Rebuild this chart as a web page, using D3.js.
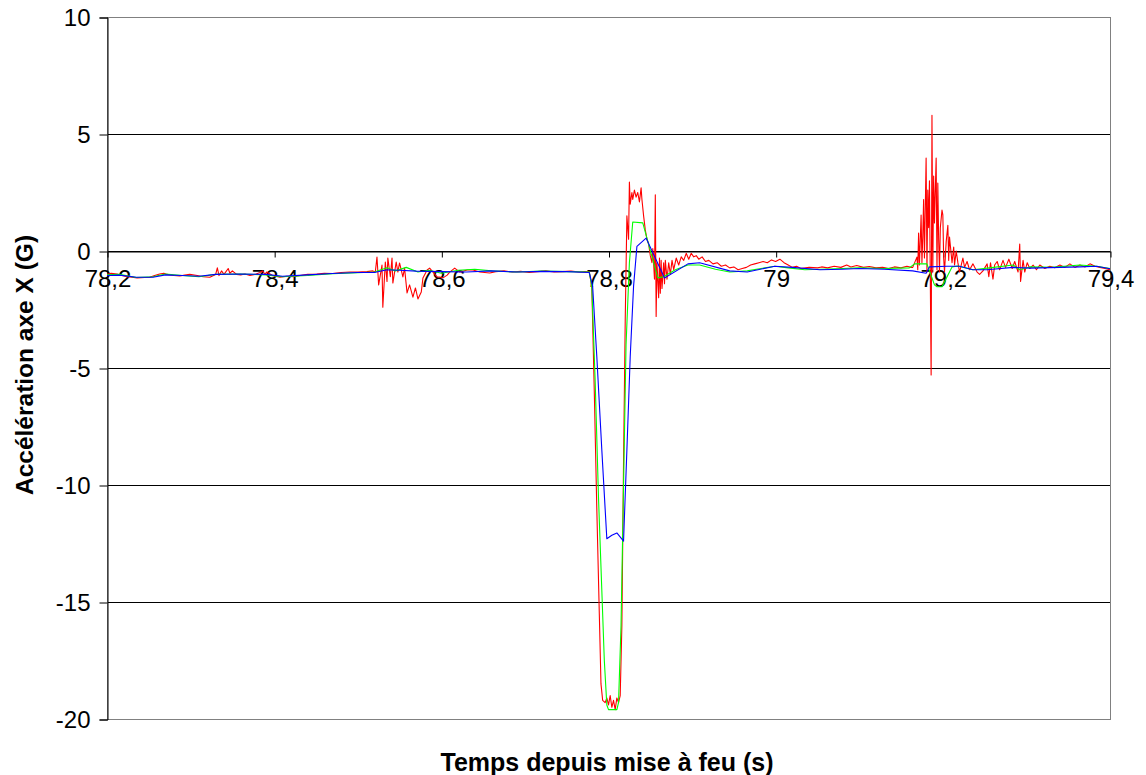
<!DOCTYPE html>
<html><head><meta charset="utf-8">
<script src="https://cdn.jsdelivr.net/npm/d3@7"></script>
<style>
html,body{margin:0;padding:0;background:#fff;}
svg{display:block;}
text{font-family:"Liberation Sans",Arial,sans-serif;}
</style></head>
<body>
<svg id="chart" width="1146" height="775"></svg>
<script>
// ---- data ----
const xTicks = [78.2, 78.4, 78.6, 78.8, 79.0, 79.2, 79.4];
const xTickLabels = ["78,2", "78,4", "78,6", "78,8", "79", "79,2", "79,4"];
const yTicks = [10, 5, 0, -5, -10, -15, -20];
const yTickLabels = ["10", "5", "0", "-5", "-10", "-15", "-20"];
const xTitle = "Temps depuis mise à feu (s)";
const yTitle = "Accélération axe X (G)";

// raw signal (red): [time s, acceleration G]
const redSeries = [
 [78.200,-1.00],[78.205,-0.95],[78.212,-0.98],[78.218,-1.05],[78.224,-1.10],[78.230,-1.12],[78.236,-1.15],
 [78.245,-1.13],[78.251,-1.12],[78.257,-1.05],[78.263,-0.98],[78.268,-0.95],[78.272,-1.00],[78.280,-1.05],
 [78.287,-1.07],[78.293,-1.03],[78.299,-1.00],[78.308,-1.05],[78.315,-1.10],[78.323,-1.12],[78.330,-1.00],
 [78.332,-0.72],[78.334,-1.05],[78.337,-0.85],[78.340,-1.00],[78.345,-0.75],[78.347,-0.95],[78.350,-0.85],
 [78.355,-1.00],[78.360,-1.02],[78.365,-0.98],[78.371,-1.05],[78.377,-1.00],[78.383,-0.92],[78.386,-0.85],
 [78.389,-1.00],[78.391,-0.90],[78.398,-1.05],[78.407,-1.12],[78.415,-1.08],[78.423,-1.10],[78.431,-1.05],
 [78.440,-1.00],[78.451,-0.98],[78.460,-0.95],[78.470,-0.96],[78.480,-0.92],[78.491,-0.90],[78.500,-0.90],
 [78.511,-0.88],[78.518,-0.85],
 [78.521,-0.90],[78.523,-0.26],[78.525,-1.45],[78.529,-0.60],[78.530,-2.40],[78.533,-0.47],[78.535,-1.30],
 [78.536,-0.30],[78.539,-1.10],[78.541,-0.30],[78.542,-1.37],[78.546,-0.47],[78.548,-0.90],[78.550,-0.51],
 [78.554,-1.11],[78.556,-0.73],[78.559,-1.79],[78.562,-1.45],[78.566,-1.97],[78.569,-1.58],[78.572,-2.05],
 [78.576,-1.75],[78.578,-1.15],[78.583,-0.81],[78.586,-0.73],[78.590,-0.90],[78.595,-1.11],[78.598,-1.11],
 [78.602,-1.15],[78.607,-1.03],[78.610,-0.90],[78.616,-0.73],[78.622,-0.90],[78.631,-0.81],[78.638,-0.81],
 [78.646,-0.90],[78.658,-0.94],
 [78.665,-0.88],[78.675,-0.85],[78.685,-0.90],[78.695,-0.87],[78.705,-0.92],[78.715,-0.88],[78.725,-0.85],
 [78.735,-0.90],[78.745,-0.88],[78.755,-0.86],[78.765,-0.90],[78.772,-0.88],[78.777,-0.90],
 [78.780,-1.50],[78.783,-6.00],[78.786,-11.0],[78.789,-15.5],[78.791,-18.5],[78.793,-19.2],[78.796,-19.3],
 [78.798,-19.1],[78.800,-19.4],[78.802,-19.0],[78.804,-19.5],[78.806,-19.2],[78.808,-19.6],[78.810,-19.1],
 [78.812,-19.3],[78.814,-19.0],[78.816,-16.0],[78.818,-9.0],[78.820,-3.0],[78.822,1.5],[78.824,0.5],
 [78.825,2.95],[78.826,2.0],[78.828,2.5],[78.829,2.2],[78.831,2.6],[78.833,2.3],[78.835,2.5],[78.837,2.1],
 [78.839,2.7],[78.840,2.2],[78.842,1.5],[78.844,0.9],[78.846,0.5],[78.848,0.3],[78.850,-0.2],[78.852,-0.5],
 [78.853,0.1],[78.855,-1.2],[78.856,2.4],[78.857,-2.8],[78.858,-0.5],[78.860,-2.0],[78.861,-0.3],[78.862,-1.8],
 [78.863,-0.4],[78.864,-1.6],[78.866,-0.5],[78.867,-1.4],[78.868,-0.4],[78.870,-1.2],[78.872,-0.5],[78.874,-1.0],
 [78.876,-0.4],[78.878,-0.8],[78.881,-0.3],[78.884,-0.6],[78.887,-0.25],[78.890,-0.4],[78.893,-0.1],[78.896,-0.35],
 [78.899,-0.1],[78.902,-0.25],[78.905,-0.2],[78.908,-0.35],[78.912,-0.25],[78.916,-0.45],[78.920,-0.4],[78.925,-0.55],
 [78.930,-0.5],[78.935,-0.65],[78.940,-0.6],[78.945,-0.72],[78.950,-0.68],[78.955,-0.8],[78.960,-0.75],[78.965,-0.7],
 [78.970,-0.6],[78.975,-0.55],[78.980,-0.5],[78.985,-0.45],[78.990,-0.5],[78.995,-0.38],[79.000,-0.45],[79.005,-0.35],
 [79.010,-0.5],[79.015,-0.6],[79.020,-0.7],[79.025,-0.65],[79.030,-0.75],[79.040,-0.7],[79.050,-0.72],
 [79.055,-0.68],[79.062,-0.72],[79.070,-0.65],[79.078,-0.70],[79.085,-0.60],[79.090,-0.68],[79.097,-0.62],
 [79.105,-0.70],[79.112,-0.66],[79.120,-0.72],[79.128,-0.70],[79.135,-0.75],[79.142,-0.68],[79.150,-0.72],
 [79.157,-0.65],[79.162,-0.70],
 [79.164,-0.70],[79.169,-0.26],[79.170,-0.80],[79.171,0.77],[79.172,-0.60],[79.174,1.54],[79.175,-0.50],
 [79.176,0.60],[79.177,2.20],[79.178,-0.30],[79.180,3.97],[79.181,-0.90],[79.182,2.60],[79.183,1.00],
 [79.184,3.00],[79.186,-5.30],[79.187,5.80],[79.188,-0.90],[79.189,3.20],[79.190,1.20],[79.192,3.97],
 [79.193,-0.80],[79.194,2.90],[79.195,0.50],[79.196,-0.90],[79.197,1.00],[79.199,1.75],[79.200,1.55],
 [79.201,-0.30],[79.202,-0.90],[79.204,0.40],[79.206,1.10],[79.207,-0.40],[79.208,0.60],[79.211,-0.50],
 [79.213,0.17],[79.214,-0.60],[79.216,0.00],[79.218,-0.50],[79.220,-0.90],[79.224,-0.30],[79.226,-0.70],
 [79.229,-0.45],[79.232,-0.80],[79.236,-0.55],[79.241,-0.90],[79.244,-1.00],[79.248,-0.85],[79.253,-0.55],
 [79.255,-1.10],[79.257,-0.50],[79.260,-1.20],[79.262,-0.60],[79.265,-0.45],[79.268,-0.80],[79.272,-0.40],
 [79.275,-0.70],[79.279,-0.35],[79.283,-0.75],[79.286,-0.45],[79.290,-0.90],[79.292,0.30],[79.293,-1.30],
 [79.296,-0.40],[79.298,-0.90],[79.301,-0.50],[79.304,-0.75],[79.308,-0.60],[79.312,-0.80],[79.316,-0.60],
 [79.322,-0.75],[79.328,-0.65],[79.334,-0.72],[79.340,-0.60],[79.346,-0.70],[79.352,-0.55],[79.358,-0.70],
 [79.364,-0.60],[79.370,-0.68],[79.376,-0.55],[79.382,-0.65],[79.388,-0.70],[79.394,-0.75],[79.400,-0.80]
];

// filtered signal (green)
const greenSeries = [
 [78.200,-1.02],[78.215,-1.00],[78.235,-1.13],[78.255,-1.10],[78.270,-0.98],[78.290,-1.05],[78.310,-1.10],
 [78.330,-1.00],[78.360,-0.98],[78.390,-1.02],[78.410,-1.10],[78.440,-1.05],[78.470,-0.97],[78.500,-0.93],
 [78.520,-0.90],[78.535,-0.72],[78.545,-0.85],[78.558,-0.70],[78.572,-0.90],[78.585,-0.82],[78.600,-0.95],
 [78.620,-0.82],[78.640,-0.78],[78.660,-0.85],[78.690,-0.90],[78.720,-0.86],[78.750,-0.88],[78.777,-0.90],
 [78.780,-1.50],[78.784,-5.50],[78.788,-10.5],[78.792,-14.5],[78.795,-17.5],[78.798,-19.4],[78.800,-19.6],
 [78.810,-19.6],[78.812,-19.3],[78.815,-16.0],[78.818,-10.0],[78.821,-4.0],[78.825,-0.5],[78.829,1.24],
 [78.841,1.20],[78.859,-1.15],[78.866,-1.10],[78.880,-0.80],[78.895,-0.60],[78.909,-0.60],[78.928,-0.78],
 [78.945,-0.90],[78.966,-0.85],[78.999,-0.65],[79.015,-0.72],[79.035,-0.80],[79.053,-0.78],[79.080,-0.75],
 [79.100,-0.72],[79.130,-0.75],[79.160,-0.72],[79.166,-0.55],[79.181,-0.55],[79.190,-1.45],[79.193,-1.53],
 [79.199,-1.53],[79.211,-0.68],[79.218,-0.64],[79.236,-0.80],[79.256,-0.72],[79.284,-0.60],[79.292,-0.80],
 [79.304,-0.68],[79.330,-0.70],[79.364,-0.60],[79.384,-0.65],[79.400,-0.75]
];

// filtered signal (blue)
const blueSeries = [
 [78.200,-1.05],[78.215,-1.03],[78.235,-1.12],[78.255,-1.12],[78.270,-1.02],[78.290,-1.05],[78.310,-1.08],
 [78.330,-1.00],[78.360,-0.98],[78.390,-1.00],[78.410,-1.08],[78.440,-1.02],[78.470,-0.96],[78.500,-0.92],
 [78.520,-0.92],[78.535,-0.80],[78.550,-0.82],[78.570,-0.86],[78.600,-0.88],[78.630,-0.90],[78.660,-0.85],
 [78.690,-0.90],[78.720,-0.87],[78.750,-0.88],[78.777,-0.92],
 [78.781,-1.50],[78.786,-4.50],[78.792,-8.50],[78.798,-12.3],[78.804,-12.15],[78.810,-12.05],[78.818,-12.4],
 [78.822,-8.50],[78.826,-4.50],[78.830,-1.50],[78.834,0.20],[78.845,0.55],[78.867,-1.15],[78.895,-0.55],
 [78.909,-0.50],[78.945,-0.85],[78.966,-0.90],[78.999,-0.65],[79.020,-0.70],[79.053,-0.80],[79.080,-0.78],
 [79.100,-0.75],[79.130,-0.78],[79.164,-0.85],[79.180,-0.95],[79.184,-0.68],[79.205,-0.65],[79.220,-0.65],
 [79.236,-0.80],[79.253,-0.80],[79.284,-0.70],[79.304,-0.73],[79.364,-0.68],[79.384,-0.65],[79.400,-0.76]
];

// ---- layout ----
const plot = {left: 107, right: 1110, top: 17, bottom: 719};

const svg = d3.select("#chart");
const x = d3.scaleLinear().domain([78.2, 79.4]).range([plot.left, plot.right]);
const y = d3.scaleLinear().domain([-20, 10]).range([plot.bottom, plot.top]);

// gridlines
svg.append("g").selectAll("line").data(yTicks.filter(v => v !== 10 && v !== -20))
  .join("line")
  .attr("x1", plot.left).attr("x2", plot.right)
  .attr("y1", d => Math.round(y(d)) + 0.5).attr("y2", d => Math.round(y(d)) + 0.5)
  .attr("stroke", "#000").attr("stroke-width", 1);

// plot border (gray)
svg.append("rect")
  .attr("x", plot.left + 0.5).attr("y", plot.top + 0.5)
  .attr("width", plot.right - plot.left).attr("height", plot.bottom - plot.top)
  .attr("fill", "none").attr("stroke", "#808080").attr("stroke-width", 1);

// y axis
const yAxis = d3.axisLeft(y).tickValues(yTicks)
  .tickFormat((d, i) => yTickLabels[i]).tickSize(8).tickPadding(9);
const gy = svg.append("g").attr("transform", `translate(${plot.left + 0.5},0.5)`).call(yAxis);
gy.select(".domain").attr("stroke", "#000");
gy.selectAll(".tick line").attr("stroke", "#000");
gy.selectAll("text").attr("font-size", 24).attr("fill", "#000")
  .attr("font-family", "'Liberation Sans', Arial, sans-serif");

// x axis at y = 0
const xAxis = d3.axisBottom(x).tickValues(xTicks)
  .tickFormat((d, i) => xTickLabels[i]).tickSize(6).tickPadding(12).tickSizeOuter(0);
const gx = svg.append("g").attr("transform", `translate(0.5,${Math.round(y(0)) + 0.5})`).call(xAxis);
gx.select(".domain").attr("stroke", "#000");
gx.selectAll(".tick line").attr("stroke", "#000");
gx.selectAll("text").attr("font-size", 24).attr("fill", "#000")
  .attr("font-family", "'Liberation Sans', Arial, sans-serif");

// series
const line = d3.line().x(d => x(d[0])).y(d => y(d[1]));
const series = [
  {data: redSeries, color: "#ff0000"},
  {data: greenSeries, color: "#00ff00"},
  {data: blueSeries, color: "#0000ff"}
];
svg.append("g").selectAll("path").data(series).join("path")
  .attr("d", d => line(d.data))
  .attr("fill", "none").attr("stroke", d => d.color).attr("stroke-width", 1.1)
  .attr("stroke-linejoin", "round");

// titles
svg.append("text")
  .attr("x", 607).attr("y", 771)
  .attr("text-anchor", "middle").attr("font-size", 25).attr("font-weight", "bold")
  .attr("fill", "#000").text(xTitle);

svg.append("text")
  .attr("transform", `translate(33,${365}) rotate(-90)`)
  .attr("text-anchor", "middle").attr("font-size", 24.5).attr("font-weight", "bold")
  .attr("fill", "#000").text(yTitle);
</script>
</body></html>
